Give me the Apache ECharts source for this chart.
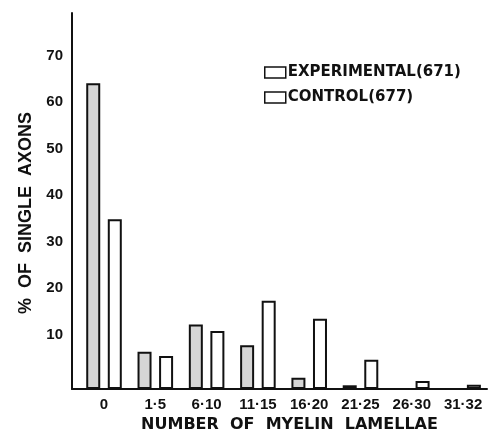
<!DOCTYPE html>
<html>
<head>
<meta charset="utf-8">
<script src="https://cdn.jsdelivr.net/npm/echarts@6/dist/echarts.min.js"></script>
<style>html,body{margin:0;padding:0;background:#fff;}#c{width:489px;height:440px;}</style>
</head>
<body>
<div id="c"></div>
<script>
const categories = ['0', '1·5', '6·10', '11·15', '16·20', '21·25', '26·30', '31·32'];
const experimental = [65.8, 8.0, 13.9, 9.4, 2.4, 0.8, 0, 0];
const control = [36.5, 7.1, 12.5, 19.0, 15.1, 6.3, 1.7, 0.9];
const yTicks = [10, 20, 30, 40, 50, 60, 70];
const seriesNames = ['EXPERIMENTAL(671)', 'CONTROL(677)'];

const FONT = '"Liberation Sans", Arial, sans-serif';
const WIDE = '"DejaVu Sans", sans-serif';
const chart = echarts.init(document.getElementById('c'), null, {renderer: 'canvas'});
const idx = categories.map((c, i) => i);
chart.setOption({
  animation: false,
  backgroundColor: '#fff',
  grid: {left: 72, right: 2, top: 13, bottom: 51},
  legend: {
    orient: 'vertical', left: 259, top: 60, itemWidth: 21, itemHeight: 11, itemGap: 10,
    icon: 'rect',
    textStyle: {fontFamily: WIDE, fontWeight: 'bold', fontSize: 15, color: '#111', padding: [0, 0, 0, -3]},
    data: seriesNames.map(n => ({name: n, itemStyle: {color: '#fff', borderColor: '#111', borderWidth: 1.5}}))
  },
  xAxis: {
    type: 'value', min: -0.624, max: 7.466,
    axisLine: {show: true, onZero: true, lineStyle: {color: '#111', width: 2}},
    axisTick: {show: false}, splitLine: {show: false},
    axisLabel: {
      customValues: idx, margin: 8,
      fontFamily: FONT, fontWeight: 'bold', fontSize: 15, color: '#111',
      formatter: v => categories[Math.round(v)] || ''
    },
    name: 'NUMBER  OF  MYELIN  LAMELLAE', nameLocation: 'middle', nameGap: 26,
    nameTextStyle: {fontFamily: WIDE, fontWeight: 'bold', fontSize: 16, color: '#111', padding: [0, 0, 0, 20]}
  },
  yAxis: {
    type: 'value', min: 0, max: 80.9,
    axisLine: {show: true, onZero: false, lineStyle: {color: '#111', width: 2}},
    axisTick: {show: false}, splitLine: {show: false},
    axisLabel: {
      customValues: yTicks, margin: 9, verticalAlign: 'bottom', lineHeight: 16,
      fontFamily: FONT, fontWeight: 'bold', fontSize: 15, color: '#111'
    },
    name: '%  OF  SINGLE  AXONS', nameLocation: 'middle', nameRotate: 90, nameGap: 37,
    nameTextStyle: {fontFamily: FONT, fontWeight: 'bold', fontSize: 18, color: '#111', padding: [0, 24, 0, 0]}
  },
  series: [
    {
      name: seriesNames[0], type: 'bar', barWidth: 14, barGap: '54%',
      data: experimental.map((v, i) => [i, v]),
      itemStyle: {color: '#d6d6d6', borderColor: '#111', borderWidth: 2}
    },
    {
      name: seriesNames[1], type: 'bar', barWidth: 14, barGap: '54%',
      data: control.map((v, i) => [i, v]),
      itemStyle: {color: '#fff', borderColor: '#111', borderWidth: 2}
    }
  ]
});
</script>
</body>
</html>
